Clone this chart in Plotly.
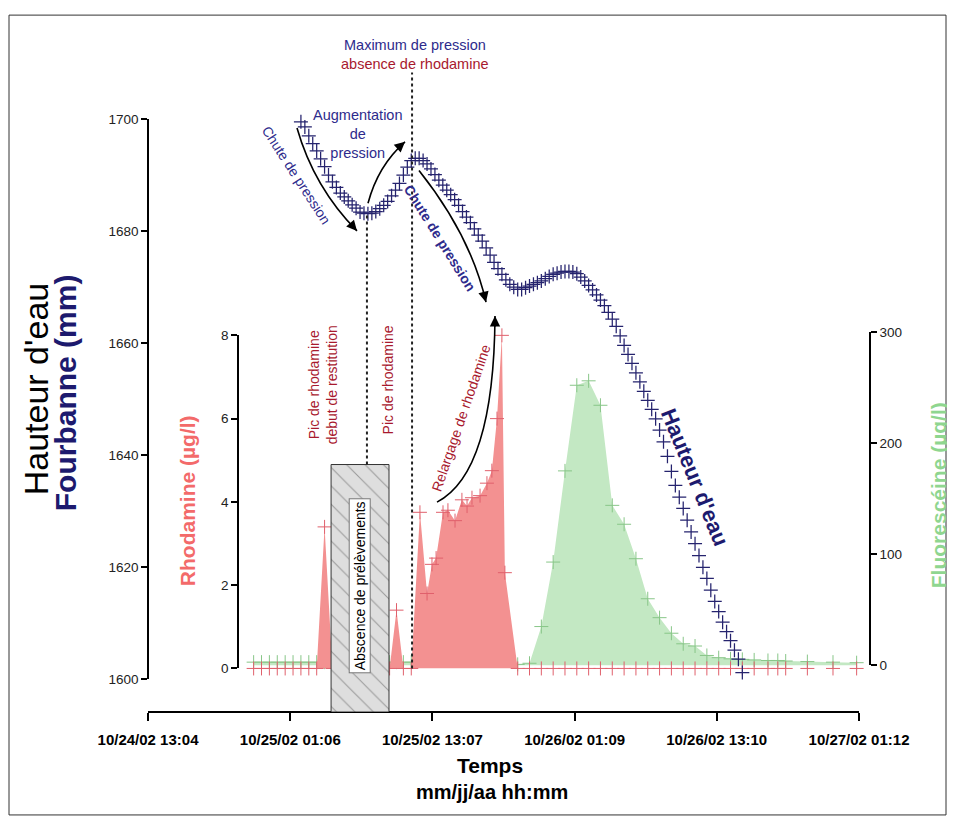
import plotly.graph_objects as go
import pandas as pd

# ------------------------------------------------------------------ data
x_tick_vals = ["2002-10-24 13:04", "2002-10-25 01:06", "2002-10-25 13:07",
               "2002-10-26 01:09", "2002-10-26 13:10", "2002-10-27 01:12"]
x_tick_text = ["10/24/02 13:04", "10/25/02 01:06", "10/25/02 13:07",
               "10/26/02 01:09", "10/26/02 13:10", "10/27/02 01:12"]

water_ticks = [1600, 1620, 1640, 1660, 1680, 1700]
rhod_ticks = [0, 2, 4, 6, 8]
fluo_ticks = [0, 100, 200, 300]

# water height (mm), logged every 20 min from 2002-10-25 02:00
water_start = "2002-10-25 02:00"
water_mm = [
    1699.5, 1698.6, 1697.0, 1695.6, 1694.3, 1692.9, 1691.5, 1690.0, 1688.8, 1687.8,
    1686.8, 1686.1, 1685.4, 1684.7, 1684.1, 1683.4, 1683.2, 1683.1, 1683.2, 1683.5,
    1684.0, 1684.6, 1685.3, 1686.3, 1687.3, 1688.5, 1690.0, 1691.4, 1692.6, 1693.0,
    1693.0, 1692.6, 1692.0, 1691.1, 1690.1, 1689.1, 1688.2, 1687.3, 1686.5, 1685.6,
    1684.6, 1683.5, 1682.5, 1681.5, 1680.4, 1679.3, 1678.2, 1677.0, 1675.7, 1674.4,
    1673.3, 1672.3, 1671.3, 1670.5, 1670.0, 1669.6, 1669.6, 1669.9, 1670.2, 1670.5,
    1670.8, 1671.1, 1671.5, 1671.9, 1672.3, 1672.5, 1672.7, 1672.8, 1672.8, 1672.7,
    1672.4, 1671.8, 1671.1, 1670.3, 1669.5, 1668.6, 1667.7, 1666.7, 1665.5, 1664.3,
    1663.0, 1661.3, 1659.6, 1658.0, 1656.4, 1654.7, 1653.1, 1651.4, 1649.8, 1648.2,
    1646.5, 1644.5, 1642.4, 1639.8, 1637.1, 1634.6, 1632.5, 1630.5, 1628.4, 1626.3,
    1624.2, 1622.1, 1620.0, 1618.0, 1615.9, 1613.9, 1612.1, 1610.2, 1608.5, 1606.9,
    1605.2, 1603.6, 1601.2]

rhod_time = [
    "2002-10-24 22:00", "2002-10-24 22:40", "2002-10-24 23:20", "2002-10-25 00:00",
    "2002-10-25 00:40", "2002-10-25 01:20", "2002-10-25 02:00", "2002-10-25 02:40",
    "2002-10-25 03:20", "2002-10-25 04:00", "2002-10-25 04:40",
    "2002-10-25 09:30", "2002-10-25 10:05", "2002-10-25 10:40", "2002-10-25 11:20",
    "2002-10-25 12:04", "2002-10-25 12:40", "2002-10-25 13:05", "2002-10-25 13:26",
    "2002-10-25 14:01", "2002-10-25 14:26", "2002-10-25 15:02", "2002-10-25 15:37",
    "2002-10-25 16:03", "2002-10-25 16:28", "2002-10-25 17:09", "2002-10-25 17:44",
    "2002-10-25 18:09", "2002-10-25 18:35", "2002-10-25 19:00", "2002-10-25 19:15",
    "2002-10-25 20:20", "2002-10-25 21:20", "2002-10-25 22:20", "2002-10-25 23:20",
    "2002-10-26 00:20", "2002-10-26 01:20", "2002-10-26 02:20", "2002-10-26 03:20",
    "2002-10-26 04:20", "2002-10-26 05:20", "2002-10-26 06:20", "2002-10-26 07:20",
    "2002-10-26 08:20", "2002-10-26 09:20", "2002-10-26 10:20", "2002-10-26 11:20",
    "2002-10-26 12:20", "2002-10-26 13:20", "2002-10-26 14:20", "2002-10-26 15:20",
    "2002-10-26 16:20", "2002-10-26 17:30", "2002-10-26 18:20", "2002-10-26 19:00",
    "2002-10-26 20:50", "2002-10-26 23:00", "2002-10-27 01:00"]
rhod_val = [
    0, 0, 0, 0, 0, 0, 0, 0, 0, 3.4, 0,
    0, 1.4, 0, 0,
    3.75, 1.8, 2.5, 2.65, 3.75, 3.8, 3.55, 4.05, 3.9, 4.1, 4.15, 4.45, 4.75, 6.0, 8.0, 2.3,
    0, 0, 0, 0, 0, 0, 0, 0, 0, 0, 0, 0, 0, 0, 0, 0, 0, 0, 0, 0, 0, 0, 0, 0, 0, 0, 0]

fluo_time = [
    "2002-10-24 22:00", "2002-10-24 22:40", "2002-10-24 23:20", "2002-10-25 00:00",
    "2002-10-25 00:40", "2002-10-25 01:20", "2002-10-25 02:00", "2002-10-25 02:40",
    "2002-10-25 03:20", "2002-10-25 04:00", "2002-10-25 04:40",
    "2002-10-25 09:30", "2002-10-25 10:05", "2002-10-25 10:40", "2002-10-25 11:20",
    "2002-10-25 20:20", "2002-10-25 21:20", "2002-10-25 22:20", "2002-10-25 23:20",
    "2002-10-26 00:20", "2002-10-26 01:20", "2002-10-26 02:20", "2002-10-26 03:20",
    "2002-10-26 04:20", "2002-10-26 05:20", "2002-10-26 06:20", "2002-10-26 07:20",
    "2002-10-26 08:20", "2002-10-26 09:20", "2002-10-26 10:20", "2002-10-26 11:20",
    "2002-10-26 12:20", "2002-10-26 13:20", "2002-10-26 14:20", "2002-10-26 15:20",
    "2002-10-26 16:20", "2002-10-26 17:30", "2002-10-26 18:20", "2002-10-26 19:00",
    "2002-10-26 20:50", "2002-10-26 23:00", "2002-10-27 01:00"]
fluo_val = [
    3, 3, 3, 3, 3, 3, 3, 3, 3, 3, 3,
    3, 3, 3, 3,
    1, 2, 35, 93, 175, 252, 256, 234, 144, 127, 96, 60, 43, 29, 19.5, 17.5,
    9, 7, 6, 5.5, 5, 4.5, 4.5, 4, 3.5, 3, 2.5]

# ------------------------------------------------------------------ style
SANS = "Liberation Sans, Arial, sans-serif"
NAVY_TXT = "#2e2b8c"
NAVY_DARK = "#1d1a6e"
NAVY_MARK = "#25236e"
RED_TXT = "#a8192e"
RHOD_FILL = "#f39191"
RHOD_MARK = "#e0606c"
RHOD_TITLE = "#f36a6a"
FLUO_FILL = "#c3e8c3"
FLUO_MARK = "#88c688"
FLUO_TITLE = "#8fd68f"

OFF = 8  # page body margin
W, H = 955 - OFF, 819 - OFF
L, R, T, B = 148 - OFF, 85, 20 - OFF, 107
PW, PH = W - L - R, H - T - B


def px(x):  # page pixel -> paper fraction
    return (x - OFF - L) / PW


def py(y):
    return (H - B - (y - OFF)) / PH


water_time = pd.date_range(water_start, periods=len(water_mm), freq="20min")

fig = go.Figure()

# fluorescein (drawn first, under rhodamine)
fig.add_trace(go.Scatter(
    x=pd.to_datetime(fluo_time), y=fluo_val, xaxis="x", yaxis="y",
    mode="markers", fill="tozeroy", fillcolor=FLUO_FILL,
    marker=dict(symbol="cross-thin", size=10, line=dict(width=1, color=FLUO_MARK)),
    cliponaxis=False, hoverinfo="skip", showlegend=False))

# rhodamine
fig.add_trace(go.Scatter(
    x=pd.to_datetime(rhod_time), y=rhod_val, xaxis="x", yaxis="y2",
    mode="markers", fill="tozeroy", fillcolor=RHOD_FILL,
    marker=dict(symbol="cross-thin", size=10, line=dict(width=1, color=RHOD_MARK)),
    cliponaxis=False, hoverinfo="skip", showlegend=False))

# water height
fig.add_trace(go.Scatter(
    x=water_time, y=water_mm, xaxis="x", yaxis="y3",
    mode="markers",
    marker=dict(symbol="cross-thin", size=10, line=dict(width=1.25, color=NAVY_MARK)),
    cliponaxis=False, hoverinfo="skip", showlegend=False))

# hatched "no sampling" box
fig.add_trace(go.Bar(
    x=[pd.Timestamp("2002-10-25 07:00")], y=[py(462)], base=0,
    width=[4.9 * 3600 * 1000], xaxis="x", yaxis="y4",
    marker=dict(color="#dedede", line=dict(color="#333", width=1),
                pattern=dict(shape="\\", fgcolor="#555", bgcolor="#dedede",
                             size=13, solidity=0.08)),
    hoverinfo="skip", showlegend=False))

axis_common = dict(showgrid=False, zeroline=False, showline=True, linecolor="black",
                   linewidth=1.5, ticks="outside", ticklen=6, tickwidth=1.5,
                   tickcolor="black", tickfont=dict(family=SANS, size=13.5, color="#222"))

fig.update_layout(
    width=W, height=H, margin=dict(l=L, r=R, t=T, b=B),
    paper_bgcolor="white", plot_bgcolor="rgba(0,0,0,0)",
    xaxis=dict(type="date", domain=[0, px(859)], anchor="free", position=0,
               range=[pd.Timestamp(x_tick_vals[0]), pd.Timestamp(x_tick_vals[-1])],
               tickvals=pd.to_datetime(x_tick_vals), ticktext=x_tick_text,
               showgrid=False, zeroline=False, showline=True, linecolor="black",
               linewidth=1.5, ticks="outside", ticklen=8, tickwidth=1.5, tickcolor="black",
               ticklabelstandoff=6,
               tickfont=dict(family=SANS, size=15, color="black", weight="bold")),
    yaxis=dict(domain=[py(665), py(328)], range=[0, 300], anchor="free", position=1.0,
               side="right", tickvals=fluo_ticks, **axis_common),
    yaxis2=dict(domain=[py(668), py(331.5)], range=[0, 8], anchor="free", position=px(238),
                side="left", tickvals=rhod_ticks, **axis_common),
    yaxis3=dict(domain=[py(679), py(113)], range=[1600, 1700], anchor="free", position=0,
                side="left", tickvals=water_ticks, **axis_common),
    yaxis4=dict(domain=[0, 1], range=[0, 1], anchor="free", position=0, visible=False),
)

ann = []


def txt(x, y, text, size=14.5, color=NAVY_TXT, angle=0, bold=False, family=SANS, **kw):
    ann.append(dict(x=px(x), y=py(y), xref="paper", yref="paper", text=text,
                    showarrow=False, textangle=angle, xanchor="center", yanchor="middle",
                    font=dict(size=size, color=color, family=family,
                              weight="bold" if bold else "normal"), **kw))


txt(415, 38, "Maximum de pression", 14.5, NAVY_TXT)
txt(415, 57, "absence de rhodamine", 14.5, RED_TXT)
txt(357, 128, "Augmentation<br>de<br>pression", 14.5, NAVY_TXT)
txt(296, 170, "Chute de pression", 14, NAVY_TXT, angle=57)
txt(440, 233, "Chute de pression", 14, NAVY_TXT, angle=58, bold=True)
txt(695, 475, "Hauteur d'eau", 22, NAVY_DARK, angle=68, bold=True)
txt(323, 382, "Pic de rhodamine<br>debut de restitution", 14, RED_TXT, angle=-90)
txt(388, 377, "Pic de rhodamine", 14, RED_TXT, angle=-90)
txt(461, 415, "Relargage de rhodamine", 14, RED_TXT, angle=-71)
txt(360, 585, "Abscence de prélèvements", 14, "black", angle=-90,
    bgcolor="white", bordercolor="#777", borderwidth=1, borderpad=2)
txt(36, 386, "Hauteur d'eau", 34, "black", angle=-90)
txt(65, 390, "Fourbanne (mm)", 30, NAVY_DARK, angle=-90, bold=True)
txt(187, 499, "Rhodamine (µg/l)", 21, RHOD_TITLE, angle=-90, bold=True)
txt(938, 493, "Fluorescéine (µg/l)", 21, FLUO_TITLE, angle=-90, bold=True)
txt(490, 766, "Temps", 21, "black", bold=True)
txt(492, 793, "mm/jj/aa hh:mm", 20, "black", bold=True)

# curved arrows: (start, control, end, arrow tail offset)
arrows = [
    ((297, 122), (314, 182), (357, 226), (-8, -9)),
    ((368, 198), (378, 160), (405, 136), (-9, 8)),
    ((419, 165), (471, 231), (486, 298), (-3, -12)),
    ((437, 500), (494, 470), (495, 312), (0, 12)),
]
shapes = []
for (s, c, e, off) in arrows:
    shapes.append(dict(type="path", xref="paper", yref="paper",
                       path=f"M {px(s[0])},{py(s[1])} Q {px(c[0])},{py(c[1])} {px(e[0])},{py(e[1])}",
                       line=dict(color="black", width=1.6)))
    ann.append(dict(x=px(e[0]), y=py(e[1]), xref="paper", yref="paper", text="",
                    showarrow=True, ax=off[0], ay=off[1], arrowhead=2, arrowsize=1.3,
                    arrowwidth=1.6, arrowcolor="black", standoff=0))

# dotted markers of remarkable times
shapes.append(dict(type="line", xref="x", yref="paper",
                   x0=pd.Timestamp("2002-10-25 11:24"), x1=pd.Timestamp("2002-10-25 11:24"),
                   y0=py(668), y1=py(66), line=dict(color="#222", width=2, dash="dot")))
shapes.append(dict(type="line", xref="x", yref="paper",
                   x0=pd.Timestamp("2002-10-25 07:35"), x1=pd.Timestamp("2002-10-25 07:35"),
                   y0=py(462), y1=py(210), line=dict(color="#222", width=2, dash="dot")))
# frame
shapes.append(dict(type="rect", xref="paper", yref="paper",
                   x0=px(9), x1=px(946), y0=py(816), y1=py(8),
                   line=dict(color="#333", width=1)))

fig.update_layout(annotations=ann, shapes=shapes)
fig.write_html("out.html")
